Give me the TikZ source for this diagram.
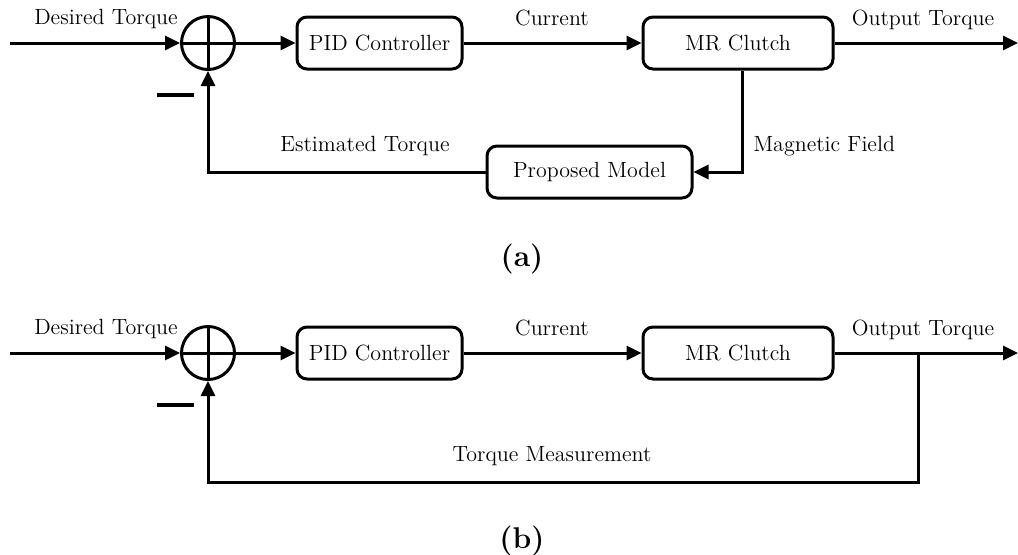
\documentclass[tikz,border=0pt]{standalone}
\usetikzlibrary{arrows.meta,calc}
\begin{document}
\begin{tikzpicture}[x=0.5pt,y=-0.5pt,
  line width=1.5pt,
  >={Triangle[length=7.5pt,width=7pt]},
  block/.style={draw,rounded corners=5pt,minimum height=26pt,inner sep=0pt,font=\fontsize{11}{13}\selectfont},
  sumj/.style={draw,circle,minimum size=26.5pt,inner sep=0pt},
  lbl/.style={inner sep=0pt,font=\fontsize{11}{13}\selectfont},
  caption/.style={inner sep=0pt,font=\fontsize{15}{18}\selectfont\bfseries},
  minus/.style={line width=1.6pt}]
\useasboundingbox (0,0) rectangle (1018,554);

% ---------- (a) model-based estimation loop ----------
\coordinate (ina) at (10,43);
\node[sumj] (sa) at (208,43) {};
\draw (sa.north) -- (sa.south) (sa.west) -- (sa.east);
\node[block,minimum width=82.5pt] (pida) at (379.5,43) {PID Controller};
\node[block,minimum width=95pt] (mra) at (738,43) {MR Clutch};
\node[block,minimum width=102.5pt] (pm) at (589.5,172) {Proposed Model};
\coordinate (outa) at (1018,43);
\coordinate (taps) at (742,43);

\draw[->] (ina) -- (sa.west);
\draw[->] (sa.east) -- (pida.west);
\draw[->] (pida.east) -- (mra.west);
\draw[->] (mra.east) -- (outa);
\draw[->] (taps |- mra.south) |- (pm.east);
\draw[->] (pm.west) -| (sa.south);
\draw[minus] (157,95) -- (194,95);

\node[lbl] (dta) at (106,19) {Desired Torque};
\node[lbl] (cua) at (552,18) {Current};
\node[lbl] (ota) at (923,20) {Output Torque};
\node[lbl] (eta) at (365,146) {Estimated Torque};
\node[lbl,anchor=west] (mfa) at (752,146) {Magnetic Field};
\node[caption] (capa) at (522,259) {(a)};

% ---------- (b) measured-torque loop ----------
\coordinate (inb) at (10,353);
\node[sumj] (sb) at (208,353) {};
\draw (sb.north) -- (sb.south) (sb.west) -- (sb.east);
\node[block,minimum width=82.5pt] (pidb) at (379.5,353) {PID Controller};
\node[block,minimum width=95pt] (mrb) at (738,353) {MR Clutch};
\coordinate (outb) at (1018,353);
\coordinate (tapb) at (918,353);
\coordinate (lowb) at (918,482);

\draw[->] (inb) -- (sb.west);
\draw[->] (sb.east) -- (pidb.west);
\draw[->] (pidb.east) -- (mrb.west);
\draw[->] (mrb.east) -- (outb);
\draw[->] (tapb) -- (lowb) -| (sb.south);
\draw[minus] (157,405) -- (194,405);

\node[lbl] (dtb) at (106,329) {Desired Torque};
\node[lbl] (cub) at (552,328) {Current};
\node[lbl] (otb) at (923,330) {Output Torque};
\node[lbl] (tmb) at (552,456) {Torque Measurement};
\node[caption] (capb) at (522,541) {(b)};
\end{tikzpicture}
\end{document}
